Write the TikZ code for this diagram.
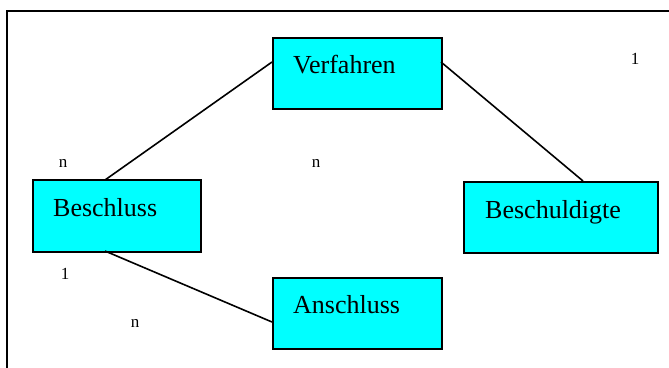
\documentclass[tikz,border=0pt]{standalone}
\usepackage{fontspec}
\setmainfont{Liberation Serif}
\definecolor{entcyan}{RGB}{0,255,255}
\begin{document}
\begin{tikzpicture}[x=1pt,y=-1pt,
  ebox/.style={draw=black, line width=1.6pt, fill=entcyan, rectangle, inner sep=0pt},
  etext/.style={anchor=base west, inner sep=0pt, font=\fontsize{26}{28}\selectfont},
  card/.style={anchor=base, inner sep=0pt, font=\fontsize{17}{19}\selectfont},
  conn/.style={line width=1.6pt}]
\useasboundingbox (0,0) rectangle (669,367);
\draw[line width=1.6pt] (7,380) -- (7,11) -- (690,11);
% boxes
\node[ebox, minimum width=169pt, minimum height=71pt, anchor=north west] (verf) at (272,37) {};
\node[ebox, minimum width=168pt, minimum height=72pt, anchor=north west] (besch) at (32,179) {};
\node[ebox, minimum width=194pt, minimum height=71pt, anchor=north west] (beschd) at (463,181) {};
\node[ebox, minimum width=169pt, minimum height=71pt, anchor=north west] (ansch) at (272,277) {};
% texts
\node[etext] (tverf) at (293,73) {Verfahren};
\node[etext] (tbesch) at (53,216) {Beschluss};
\node[etext] (tbeschd) at (485,218) {Beschuldigte};
\node[etext] (tansch) at (293,313) {Anschluss};
% connectors
\coordinate (b1) at (105,180);
\coordinate (v1) at (272,62);
\coordinate (v2) at (441,62);
\coordinate (d1) at (583,181);
\coordinate (b2) at (105,251);
\coordinate (a1) at (272,322);
\draw[conn] (b1) -- (v1);
\draw[conn] (v2) -- (d1);
\draw[conn] (b2) -- (a1);
% cardinalities
\node[card] (c1) at (63,167) {n};
\node[card] (c2) at (316,167) {n};
\node[card] (c3) at (635,64) {1};
\node[card] (c4) at (65,279) {1};
\node[card] (c5) at (135,327) {n};
\end{tikzpicture}
\end{document}
